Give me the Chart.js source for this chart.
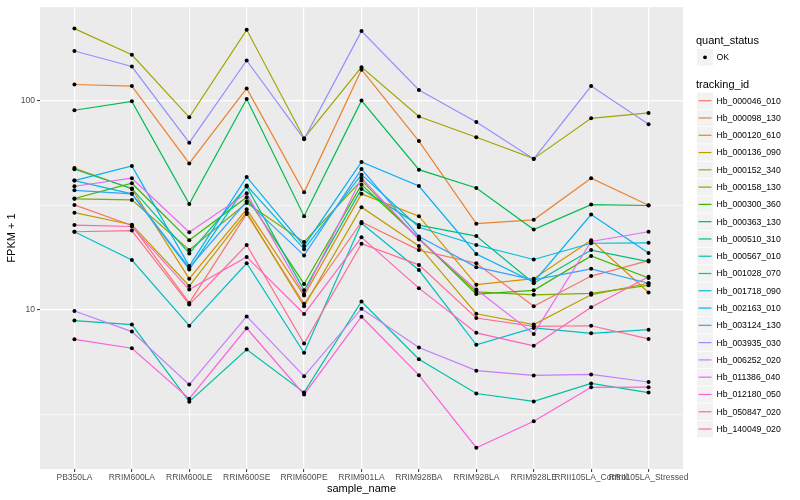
<!DOCTYPE html>
<html><head><meta charset="utf-8">
<script src="https://cdn.jsdelivr.net/npm/chart.js@4"></script>
<style>html,body{margin:0;padding:0;background:#fff}canvas{display:block}</style>
</head><body>
<canvas id="c" width="800" height="500"></canvas>
<script>
const categories = ["PB350LA","RRIM600LA","RRIM600LE","RRIM600SE","RRIM600PE","RRIM901LA","RRIM928BA","RRIM928LA","RRIM928LE","RRII105LA_Control","RRII105LA_Stressed"];
const yMajorTicks = [10, 100];
const yMinorTicks = [3.1623, 31.623];
const quantStatus = ["OK"];
const trackingIds = ["Hb_000046_010","Hb_000098_130","Hb_000120_610","Hb_000136_090","Hb_000152_340","Hb_000158_130","Hb_000300_360","Hb_000363_130","Hb_000510_310","Hb_000567_010","Hb_001028_070","Hb_001718_090","Hb_002163_010","Hb_003124_130","Hb_003935_030","Hb_006252_020","Hb_011386_040","Hb_012180_050","Hb_050847_020","Hb_140049_020"];

const Hb_000046_010 = [31.7, 25.3, 10.8, 28.7, 10.7, 26.3, 19.3, 16.7, 10.4, 14.5, 17.2];
const Hb_000098_130 = [119, 117, 50.0, 114, 36.4, 140, 63.9, 25.8, 26.9, 42.5, 31.6];
const Hb_000120_610 = [47.5, 37.8, 14.1, 30.2, 11.7, 35.8, 28.0, 13.2, 14.1, 21.5, 12.1];
const Hb_000136_090 = [29.1, 25.5, 13.0, 29.2, 10.4, 30.9, 20.2, 9.59, 8.51, 11.8, 13.4];
const Hb_000152_340 = [220, 165, 83.0, 217, 66.0, 144, 83.7, 66.7, 52.7, 82.1, 87.1];
const Hb_000158_130 = [33.9, 33.5, 19.3, 32.4, 21.1, 41.5, 21.7, 12.2, 11.8, 12.0, 13.1];
const Hb_000300_360 = [34.0, 40.2, 21.5, 34.5, 13.3, 39.6, 22.0, 11.9, 12.4, 18.1, 14.2];
const Hb_000363_130 = [89.7, 98.9, 32.0, 101.5, 28.0, 99.7, 46.7, 38.2, 24.2, 31.8, 31.5];
const Hb_000510_310 = [46.9, 38.0, 18.6, 38.8, 12.4, 37.8, 25.4, 22.5, 13.4, 19.3, 17.0];
const Hb_000567_010 = [8.89, 8.51, 3.65, 6.47, 4.04, 10.97, 5.82, 3.99, 3.66, 4.46, 4.03];
const Hb_001028_070 = [23.6, 17.3, 8.41, 16.7, 6.24, 25.9, 15.5, 6.81, 8.20, 7.73, 8.05];
const Hb_001718_090 = [41.4, 35.8, 15.6, 39.2, 19.5, 44.2, 24.8, 20.4, 17.4, 20.8, 20.9];
const Hb_002163_010 = [41.4, 48.6, 16.2, 43.1, 20.2, 50.8, 39.0, 18.5, 13.6, 28.5, 18.7];
const Hb_003124_130 = [37.2, 35.8, 15.9, 33.0, 18.2, 47.0, 22.4, 16.0, 13.9, 15.7, 13.4];
const Hb_003935_030 = [172, 145, 62.8, 155, 65.3, 214, 112, 78.9, 52.5, 117, 76.9];
const Hb_006252_020 = [9.88, 7.88, 4.40, 9.31, 4.83, 10.13, 6.61, 5.13, 4.87, 4.92, 4.53];
const Hb_011386_040 = [38.9, 42.5, 23.5, 36.0, 11.9, 42.6, 21.8, 12.5, 7.68, 21.2, 23.6];
const Hb_012180_050 = [7.24, 6.56, 3.77, 8.17, 3.95, 9.28, 4.88, 2.20, 2.94, 4.27, 4.28];
const Hb_050847_020 = [25.4, 25.0, 12.5, 17.9, 9.56, 22.2, 12.7, 7.77, 6.74, 10.3, 14.4];
const Hb_140049_020 = [23.6, 23.9, 10.6, 20.4, 6.91, 20.7, 16.4, 9.15, 8.35, 8.40, 7.27];

const seriesValues = [Hb_000046_010,Hb_000098_130,Hb_000120_610,Hb_000136_090,Hb_000152_340,Hb_000158_130,Hb_000300_360,Hb_000363_130,Hb_000510_310,Hb_000567_010,Hb_001028_070,Hb_001718_090,Hb_002163_010,Hb_003124_130,Hb_003935_030,Hb_006252_020,Hb_011386_040,Hb_012180_050,Hb_050847_020,Hb_140049_020];
const palette = ["#F8766D","#EA8331","#D89000","#C09B00","#A3A500","#7CAE00","#39B600","#00BB4E","#00BF7D","#00C1A3","#00BFC4","#00BAE0","#00B0F6","#35A2FF","#9590FF","#C77CFF","#E76BF3","#FA62DB","#FF62BC","#FF6C91"];

const FONT = '"Liberation Sans", Arial, Helvetica, sans-serif';

const datasets = seriesValues.map((vals, i) => ({
  type: 'line',
  label: trackingIds[i],
  data: vals.map((v, j) => ({x: j, y: v})),
  borderColor: palette[i],
  backgroundColor: palette[i],
  borderWidth: 1.2,
  pointRadius: 0,
  fill: false,
  tension: 0,
  order: 40 - i
}));
datasets.push({
  type: 'scatter',
  label: quantStatus[0],
  data: seriesValues.flatMap(vals => vals.map((v, j) => ({x: j, y: v}))),
  pointRadius: 2,
  pointBackgroundColor: '#000',
  pointBorderWidth: 0,
  showLine: false,
  order: 0
});

const panelBg = {
  id: 'panelBg',
  beforeDraw(chart) {
    const {ctx, chartArea: a} = chart;
    ctx.save();
    ctx.fillStyle = '#FFFFFF';
    ctx.fillRect(0, 0, chart.width, chart.height);
    ctx.fillStyle = '#EBEBEB';
    ctx.fillRect(a.left, a.top, a.right - a.left, a.bottom - a.top);
    ctx.restore();
  }
};

const ggLegend = {
  id: 'ggLegend',
  afterDraw(chart) {
    const ctx = chart.ctx;
    const x0 = 697, kw = 16, step = 17.28;
    ctx.save();
    ctx.textBaseline = 'middle';
    ctx.textAlign = 'left';
    ctx.fillStyle = '#000';
    ctx.font = '11px ' + FONT;
    ctx.fillText('quant_status', 696, 41);
    ctx.fillStyle = '#F2F2F2';
    ctx.fillRect(x0, 49, kw, 16.5);
    ctx.fillStyle = '#000';
    ctx.beginPath(); ctx.arc(x0 + kw / 2, 57.3, 1.9, 0, Math.PI * 2); ctx.fill();
    ctx.font = '8.7px ' + FONT;
    ctx.fillText(quantStatus[0], 716.5, 57.5);
    ctx.font = '11px ' + FONT;
    ctx.fillText('tracking_id', 696, 84.5);
    ctx.font = '8.7px ' + FONT;
    trackingIds.forEach((id, i) => {
      const y = 100.7 + i * step;
      ctx.fillStyle = '#F2F2F2';
      ctx.fillRect(x0, y - 8.2, kw, 16.5);
      ctx.strokeStyle = palette[i];
      ctx.lineWidth = 1.2;
      ctx.beginPath(); ctx.moveTo(x0 + 1.5, y); ctx.lineTo(x0 + kw - 1.5, y); ctx.stroke();
      ctx.fillStyle = '#000';
      ctx.fillText(id, 716.5, y + 0.5);
    });
    ctx.restore();
  }
};

new Chart(document.getElementById('c'), {
  type: 'line',
  data: { datasets },
  plugins: [panelBg, ggLegend],
  options: {
    responsive: false,
    devicePixelRatio: 1,
    animation: false,
    events: [],
    layout: { padding: { left: 0, top: 5, right: 117, bottom: 0 } },
    plugins: { legend: { display: false }, tooltip: { enabled: false } },
    scales: {
      x: {
        type: 'linear',
        min: -0.6,
        max: 10.6,
        afterBuildTicks: s => { s.ticks = categories.map((_, i) => ({ value: i })); },
        afterFit: s => { s.height = 31; },
        ticks: {
          callback: v => (categories[v] !== undefined ? categories[v] : ''),
          autoSkip: false, maxRotation: 0, minRotation: 0,
          color: '#4D4D4D', font: { family: FONT, size: 8.5 }, padding: 1
        },
        grid: { color: '#FFFFFF', lineWidth: 1.2, tickColor: '#333333', tickLength: 3, tickWidth: 1 },
        border: { display: false },
        title: { display: true, text: 'sample_name', color: '#000', font: { family: FONT, size: 11 }, padding: { top: 0, bottom: 4 } }
      },
      y: {
        type: 'logarithmic',
        min: 1.741,
        max: 278.6,
        afterBuildTicks: s => { s.ticks = [yMinorTicks[0], yMajorTicks[0], yMinorTicks[1], yMajorTicks[1]].map(v => ({ value: v })); },
        afterFit: s => { s.width = 40; },
        ticks: {
          callback: v => (yMajorTicks.includes(v) ? String(v) : ''),
          autoSkip: false, color: '#4D4D4D', font: { family: FONT, size: 8.5 }, padding: 2
        },
        grid: {
          color: '#FFFFFF',
          lineWidth: c => (c.tick && yMajorTicks.includes(c.tick.value)) ? 1.2 : 0.6,
          tickColor: c => (c.tick && yMajorTicks.includes(c.tick.value)) ? '#333333' : 'rgba(0,0,0,0)',
          tickLength: 3, tickWidth: 1
        },
        border: { display: false },
        title: { display: true, text: 'FPKM + 1', color: '#000', font: { family: FONT, size: 11 }, padding: { top: 5, bottom: 0 } }
      }
    }
  }
});
</script>
</body></html>
